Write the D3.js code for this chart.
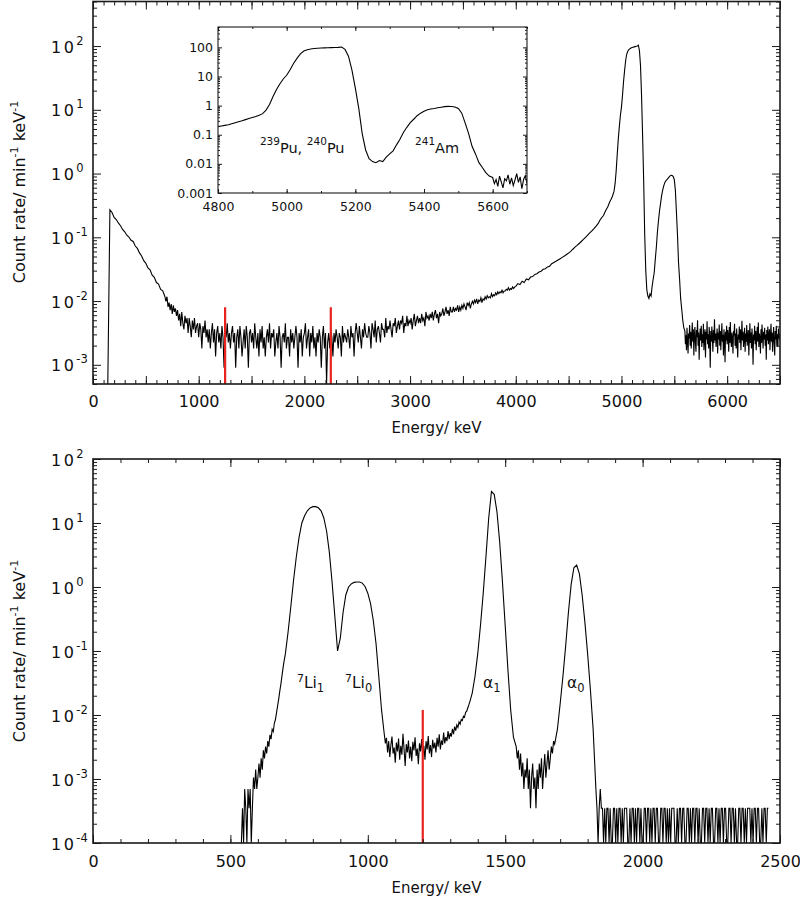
<!DOCTYPE html>
<html><head><meta charset="utf-8">
<script src="https://cdn.jsdelivr.net/npm/d3@7"></script>
<style>
body{margin:0;background:#fff}
svg{display:block}
text{font-family:"DejaVu Sans",sans-serif;fill:#111}
</style>
</head><body>
<svg id="c" width="800" height="902"></svg>
<script>
// ================= DATA =================
// Top spectrum (Pu/Am source), count rate per min per keV
const topDecayStart = 140, topDecayStep = 20;
const topDecay = [
0,.27,.245,.205,.19,.168,.152,.133,.122,.108,
.101,.090,.086,.073,.067,.057,.051,.043,.039,.033,
.031,.0255,.0235,.0195,.0185,.0152,.0145,.0118];
// flat background region as counts per 10-keV bin (1 count = topCountUnit)
const topBgStart = 690, topBgStep = 10, topCountUnit = 4.5e-4;
const topBgCounts = [
22,26,18,21,16,20,14,19,15,17,13,
16,11,14,9,15,10,8,13,10,12,
7,12,9,6,11,8,12,7,9,10,
6,10,8,4,9,7,11,6,8,5,
8,4,7,10,5,8,3,7,9,5,
7,4,9,6,2,8,6,10,5,7,
4,7,9,5,7,2,6,8,4,9,
6,3,5,8,4,9,6,2,7,8,
5,7,4,10,6,4,7,3,8,5,
9,4,6,3,6,8,5,10,4,7,
6,8,3,5,7,4,9,6,2,6,
7,5,10,4,6,6,3,8,5,7,
4,6,9,6,2,7,5,8,3,6,
7,10,4,6,8,3,7,5,9,4,
6,3,7,5,8,6,2,6,9,4,
7,1,5,7,4,8,6,3,7,5,
8,6,4,7,6,3,9,5,7,6,
5,8,6,4,9,6,7,3,7,10,
7,5,9,6,4,8,6,10,7,6,
6,9,7,4,10,8,6,11,5,8,
9,7,5,10,8,8,6,12,7,9,
8,11,8,6,10,9,12,7,9,11,
8,11,10,13,7,10,9,13,9,11,
10,12,8,11,14,9,11,13,10,12,
10,14,11,12,9,15,12,13,11,14,
12,15,11,14,16,12,14,10,15,13,
14,17,13,15,18,14,16,13,18,15,
15,18,15,17,16,19,15,18,16,19,
17,20,18,16,21,19,21,17,20,22,
20,23,21,24,20,23,22,25,21,24,
23,26,24,27,25,26,25,29,26,28,
27,30,28,31,29,31,30,33,30,32,
32,34,33,36,33,35,34,37,35,37];
const topRiseStart = 4000, topRiseStep = 20;
const topRise = [
.0170,.0188,.0182,.0205,.0196,.0222,.0215,
.0238,.0242,.0262,.0268,.0286,.0294,.0315,.0322,.0343,.0352,
.0385,.0402,.0420,.0441,.0462,.0485,.0510,.0538,.0566,.0600,
.0650,.0700,.0745,.0800,.0860,.0925,.1000,.1080,.1170,.1260,
.137,.150,.165];
const topPeakStart = 4800, topPeakStep = 10;
const topPeak = [
.19,.20,.21,.22,.24,.26,.28,.30,.33,.36,
.39,.42,.47,.53,.70,1.1,2.0,3.5,5.5,8.2,
11,17,28,42,60,75,83,88,91,93,
95,96,97,98,99,100,103,85,50,17,
4,.8,.11,.03,.015,.012,.011,.013,.012,.017,
.022,.028,.045,.07,.12,.18,.26,.34,.45,.55,
.64,.72,.77,.80,.84,.88,.92,.94,.93,.90,
.80,.55,.25,.11,.04,.022,.011,.0075,.005,.0038];
const topTailStart = 5600, topTailStep = 5;
const topTail = [
.0034,.0021,.0029,.0017,.0038,.0024,.0015,.0031,.0026,.0042,
.0020,.0033,.0018,.0028,.0046,.0023,.0036,.0014,.0029,.0039,
.0022,.0016,.0035,.0027,.0050,.0020,.0032,.0012,.0026,.0037,
.0024,.0041,.0019,.0030,.0022,.0044,.0017,.0028,.0036,.0013,
.0033,.0025,.0048,.0021,.0030,.0018,.0039,.0026,.0009,.0034,
.0023,.0040,.0027,.0016,.0035,.0022,.0052,.0024,.0031,.0019,
.0028,.0037,.0015,.0032,.0025,.0043,.0020,.0034,.0017,.0029,
.0045,.0023,.0030,.0014,.0036,.0026,.0011,.0033,.0024,.0041,
.0021,.0035,.0028,.0016,.0039,.0022,.0047,.0025,.0019,.0032,
.0026,.0015,.0034,.0029,.0044,.0020,.0031,.0018,.0037,.0023,
.0013,.0030,.0025,.0040,.0022,.0036,.0017,.0028,.0049,.0024,
.0033,.0019,.0027,.0038,.0016,.0031,.0023,.0042,.0020,.0029,
.0035,.0014,.0026,.0045,.0022,.0032,.0018,.0037,.0025,.0010,
.0030,.0024,.0041,.0021,.0034,.0017,.0028,.0039,.0023,.0046,
.0019,.0031,.0026,.0015,.0036,.0022,.0043,.0027,.0018,.0033,
.0025,.0038,.0020,.0030,.0012,.0035,.0024,.0040,.0021,.0028,
.0036,.0017,.0029,.0044,.0023,.0032,.0016,.0027,.0039,.0022,
.0014,.0034,.0025,.0041,.0020,.0030,.0019,.0037,.0026,.0031,
.0024];
const topMarkers = [1250, 2250];
const topMarkerHeight = 0.008;

// Bottom spectrum (B-10 / Li-7 reaction), count rate per min per keV
const botRiseStart = 540, botRiseStep = 4;
const botRise = [
0,.00035,0,.0007,.00035,0,.0007,.00035,.0007,0,
.00035,.00105,.0007,.0014,.0007,.00105,.00175,.00105,.0021,.0014,
.0028,.0021,.0032,.0025,.0039,.0032,.0049,.0042,.0060,.0055,
.0075,.0085,.011,.014,.018,.024,.031,.042,.056,.072];
const botLiStart = 700, botLiStep = 10;
const botLi = [
.09,.2,.5,1.3,3.0,6.0,10,13,15.5,17.2,
18,18,17.3,15.5,12,7.5,3.5,1.2,.35,.1,
.16,.4,.75,1.0,1.12,1.18,1.2,1.2,1.15,1.02,
.8,.55,.3,.13,.04,.012];
const botMidStart = 1060, botMidStep = 4;
const botMid = [
.0050,.0036,.0044,.0026,.0039,.0022,.0034,.0046,.0025,.0031,
.0018,.0037,.0027,.0043,.0020,.0033,.0024,.0051,.0029,.0016,
.0035,.0026,.0040,.0021,.0032,.0019,.0038,.0028,.0045,.0023,
.0030,.0017,.0036,.0027,.0042,.0024,.0033,.0020,.0039,.0029,
.0047,.0025,.0034,.0022,.0041,.0030,.0037,.0026,.0044,.0032,
.0050,.0029,.0040,.0034,.0053,.0036,.0045,.0039,.0056,.0042,
.0052,.0046,.0061,.0050,.0066,.0057,.0070,.0064,.0078,.0072,
.0085,.0082,.0096,.0093,.011,.0115,.013,.0145,.0165,.019];
const botA1Start = 1380, botA1Step = 10;
const botA1 = [.022,.04,.09,.25,.8,3.0,12,31,28,15,5,1.2,.25,.05,.012,.0045];
const botValleyStart = 1540, botValleyStep = 4;
const botValley = [
.0032,.0021,.0028,.0014,.0025,.0011,.0018,.0007,.0014,.00105,
.0021,.0007,.0014,.00035,.00105,.00175,.0007,.00105,.00035,.0014,
.0007,.00175,.00105,.0021,.0007,.0014,.00245,.00105,.00175,.0028,
.0014,.0021,.0032,.0025,.0039,.0035];
const botA0Start = 1690, botA0Step = 10;
const botA0 = [.006,.015,.04,.12,.4,1.1,2.0,2.2,1.6,.75,.28,.09,.025,.006];
const botTailStart = 1830, botTailStep = 4, botCountUnit = 3.5e-4;
const botTailCounts = [
2,1,0,1,2,1,1,0,1,0,1,1,0,1,0,0,1,1,0,1,
0,1,1,0,1,0,1,1,1,0,0,1,0,1,1,0,1,0,1,1,
0,1,0,0,1,1,0,1,1,0,1,0,1,1,0,1,1,0,0,1,
1,0,1,1,0,1,0,1,0,1,1,1,0,0,1,0,1,1,0,1,
1,0,0,1,1,0,1,0,1,1,0,1,1,0,1,0,0,1,1,0,
1,1,0,1,0,1,1,0,0,1,1,0,1,0,1,1,0,1,1,0,
0,1,1,0,1,1,0,1,0,0,1,1,0,1,1,0,1,0,1,1,
1,0,1,0,1,1,0,1,1,0,0,1,0,1,1,0,1,1];
const botMarkers = [1200];
const botMarkerHeight = 0.012;

// Axis ticks / labels
const topXLabels = [0,1000,2000,3000,4000,5000,6000];
const topYExps = [-3,-2,-1,0,1,2];
const botXLabels = [0,500,1000,1500,2000,2500];
const botYExps = [-4,-3,-2,-1,0,1,2];
const insetXLabels = [4800,5000,5200,5400,5600];
const insetYLabels = ["0.001","0.01","0.1","1","10","100"];
const yTitle = ["Count rate/ min", "-1", " keV", "-1"];
const xTitle = "Energy/ keV";

// ================= BUILD =================
const seg = (s, st, arr, unit=1) => arr.map((v,i) => ({e: s + i*st, v: v*unit}));
const topData = [].concat(
  seg(topDecayStart, topDecayStep, topDecay),
  seg(topBgStart, topBgStep, topBgCounts, topCountUnit),
  seg(topRiseStart, topRiseStep, topRise),
  seg(topPeakStart, topPeakStep, topPeak),
  seg(topTailStart, topTailStep, topTail));
const botData = [].concat(
  seg(botRiseStart, botRiseStep, botRise),
  seg(botLiStart, botLiStep, botLi),
  seg(botMidStart, botMidStep, botMid),
  seg(botA1Start, botA1Step, botA1),
  seg(botValleyStart, botValleyStep, botValley),
  seg(botA0Start, botA0Step, botA0),
  seg(botTailStart, botTailStep, botTailCounts, botCountUnit));

const svg = d3.select("#c");
const INK = "#1a1a1a";
const RED = "#e8231d";

function range(a,b,s){const r=[];for(let v=a;v<=b+1e-9;v+=s)r.push(v);return r;}
function logMinor(dom){
  const r=[];
  for(let d=Math.floor(Math.log10(dom[0]));d<=Math.ceil(Math.log10(dom[1]));d++)
    for(let k=2;k<=9;k++){const v=k*Math.pow(10,d); if(v>=dom[0]&&v<=dom[1]) r.push(v);}
  return r;
}

function ticks(g, axisFn, scale, vals, len, tr){
  const a = g.append("g").attr("transform", tr)
    .call(axisFn(scale).tickValues(vals).tickSize(-len).tickFormat(""));
  a.select(".domain").remove();
  a.selectAll("line").attr("stroke", INK).attr("stroke-width", 1);
  return a;
}

let clipId = 0;
function drawPanel(o){
  const x = d3.scaleLinear().domain(o.xDom).range([o.x0, o.x1]);
  const y = d3.scaleLog().domain(o.yDom).range([o.y1, o.y0]);
  const g = svg.append("g");
  const w = o.x1 - o.x0, h = o.y1 - o.y0;
  if (o.fill) g.append("rect").attr("x",o.x0).attr("y",o.y0).attr("width",w).attr("height",h).attr("fill","#fff");
  const id = "clip" + (clipId++);
  g.append("clipPath").attr("id", id).append("rect").attr("x",o.x0).attr("y",o.y0).attr("width",w).attr("height",h);

  const line = d3.line().x(d => x(d.e)).y(d => d.v > 0 ? Math.min(y(d.v), o.y1) : o.y1);
  const data = o.data.filter(d => d.e >= o.xDom[0]-60 && d.e <= o.xDom[1]+60);
  g.append("path").datum(data).attr("clip-path", `url(#${id})`)
    .attr("d", line).attr("fill","none").attr("stroke", "#000")
    .attr("stroke-width", o.lw).attr("stroke-linejoin","miter");

  (o.markers||[]).forEach(m => {
    g.append("path").datum([{e:m, v:o.yDom[0]}, {e:m, v:o.markerTop}])
      .attr("d", d3.line().x(d=>x(d.e)).y(d=>y(d.v)))
      .attr("stroke", RED).attr("stroke-width", 2.2).attr("fill","none");
  });

  // ticks (inward, all four sides)
  const ax = g.append("g");
  ticks(ax, d3.axisBottom, x, o.xMinor, o.minLen, `translate(0,${o.y1})`);
  ticks(ax, d3.axisTop, x, o.xMinor, o.minLen, `translate(0,${o.y0})`);
  ticks(ax, d3.axisBottom, x, o.xMajor, o.majLen, `translate(0,${o.y1})`);
  ticks(ax, d3.axisTop, x, o.xMajor, o.majLen, `translate(0,${o.y0})`);
  const yMinor = logMinor(o.yDom);
  ticks(ax, d3.axisLeft, y, yMinor, o.minLen, `translate(${o.x0},0)`);
  ticks(ax, d3.axisRight, y, yMinor, o.minLen, `translate(${o.x1},0)`);
  ticks(ax, d3.axisLeft, y, o.yMajor, o.majLen, `translate(${o.x0},0)`);
  ticks(ax, d3.axisRight, y, o.yMajor, o.majLen, `translate(${o.x1},0)`);

  // x labels
  const xl = g.append("g").attr("transform", `translate(0,${o.y1})`)
    .call(d3.axisBottom(x).tickValues(o.xLabels).tickSize(0).tickFormat(o.xFmt || d3.format("d")));
  xl.select(".domain").remove();
  xl.attr("font-family", null).attr("font-size", o.fs);
  xl.selectAll("text").attr("y", o.xLabY).attr("dy", null).attr("fill", INK);

  // y labels
  const yl = g.append("g").attr("transform", `translate(${o.x0},0)`)
    .call(d3.axisLeft(y).tickValues(o.yMajor).tickSize(0).tickFormat(o.yFmt));
  yl.select(".domain").remove();
  yl.attr("font-family", null).attr("font-size", o.fs);
  yl.selectAll("text").attr("fill", INK);
  if (o.yPow) {
    yl.selectAll(".tick text").each(function(d){
      const t = d3.select(this);
      t.text("10").attr("text-anchor","start").attr("x", o.yLabX).attr("y", 6).attr("dy", null)
        .attr("letter-spacing", "2.5px");
      t.append("tspan").attr("dy", -8).attr("font-size", 11.5).attr("letter-spacing","0px")
        .text(Math.round(Math.log10(d)));
    });
  } else {
    yl.selectAll("text").attr("x", o.yLabX);
  }

  // frame
  g.append("rect").attr("x",o.x0).attr("y",o.y0).attr("width",w).attr("height",h)
    .attr("fill","none").attr("stroke", INK).attr("stroke-width", o.frameW);
  return {x, y, g};
}

function yAxisTitle(cx, cy){
  const t = svg.append("text").attr("transform", `translate(${cx},${cy}) rotate(-90)`)
    .attr("text-anchor","middle").attr("font-size", 16);
  t.append("tspan").text(yTitle[0]);
  t.append("tspan").attr("dy", -7).attr("font-size", 11).text(yTitle[1]);
  t.append("tspan").attr("dy", 7).text(yTitle[2]);
  t.append("tspan").attr("dy", -7).attr("font-size", 11).text(yTitle[3]);
}

// ---- Top panel
const topDom = [5e-4, 500];
const topPanel = drawPanel({
  x0: 93, x1: 780, y0: 1.5, y1: 384,
  xDom: [0, 6500], yDom: topDom, data: topData, lw: 1.1,
  xMinor: range(0, 6500, 100), xMajor: range(0, 6500, 500), xLabels: topXLabels,
  yMajor: topYExps.map(e => Math.pow(10, e)), yFmt: () => "", yPow: true, yLabX: -42,
  majLen: 8, minLen: 4, fs: 16, xLabY: 23, frameW: 1.6,
  markers: topMarkers, markerTop: topMarkerHeight
});
yAxisTitle(25, 192);
svg.append("text").attr("x", 436.5).attr("y", 433).attr("text-anchor","middle").attr("font-size",15).text(xTitle);

// ---- Inset
const insetPanel = drawPanel({
  x0: 218, x1: 527, y0: 27, y1: 193,
  xDom: [4800, 5700], yDom: [0.001, 500], data: topData, lw: 1.1, fill: true,
  xMinor: range(4800, 5700, 100), xMajor: range(4800, 5700, 200), xLabels: insetXLabels,
  yMajor: insetYLabels.map(Number), yFmt: (d,i) => insetYLabels[i], yPow: false, yLabX: -5,
  majLen: 4, minLen: 2, fs: 12.5, xLabY: 18, frameW: 1.1
});
{
  const l1 = svg.append("text").attr("x", insetPanel.x(4922)).attr("y", insetPanel.y(0.023)).attr("font-size", 14.5);
  l1.append("tspan").attr("dy", -8).attr("font-size", 10.5).text("239");
  l1.append("tspan").attr("dy", 8).text("Pu, ");
  l1.append("tspan").attr("dy", -8).attr("font-size", 10.5).text("240");
  l1.append("tspan").attr("dy", 8).text("Pu");
  const l2 = svg.append("text").attr("x", insetPanel.x(5374)).attr("y", insetPanel.y(0.023)).attr("font-size", 14.5);
  l2.append("tspan").attr("dy", -8).attr("font-size", 10.5).text("241");
  l2.append("tspan").attr("dy", 8).text("Am");
}

// ---- Bottom panel
const botPanel = drawPanel({
  x0: 93, x1: 780, y0: 459, y1: 843,
  xDom: [0, 2500], yDom: [1e-4, 100], data: botData, lw: 1.1,
  xMinor: range(0, 2500, 100), xMajor: range(0, 2500, 500), xLabels: botXLabels,
  yMajor: botYExps.map(e => Math.pow(10, e)), yFmt: () => "", yPow: true, yLabX: -42,
  majLen: 8, minLen: 4, fs: 16, xLabY: 24, frameW: 1.6,
  markers: botMarkers, markerTop: botMarkerHeight
});
yAxisTitle(25, 651);
svg.append("text").attr("x", 436.5).attr("y", 893).attr("text-anchor","middle").attr("font-size",15).text(xTitle);

// peak labels
const peakLabels = [
  {e: 742, sup: "7", main: "Li", sub: "1"},
  {e: 917, sup: "7", main: "Li", sub: "0"},
  {e: 1419, sup: "", main: "\u03b1", sub: "1"},
  {e: 1725, sup: "", main: "\u03b1", sub: "0"}
];
peakLabels.forEach(p => {
  const t = svg.append("text").attr("x", botPanel.x(p.e)).attr("y", botPanel.y(0.026)).attr("font-size", 15.5);
  if (p.sup) {
    t.append("tspan").attr("dy", -6).attr("font-size", 11).text(p.sup);
    t.append("tspan").attr("dy", 6).text(p.main);
  } else t.append("tspan").text(p.main);
  t.append("tspan").attr("dy", 4).attr("font-size", 11.5).text(p.sub);
});
</script>
</body></html>
